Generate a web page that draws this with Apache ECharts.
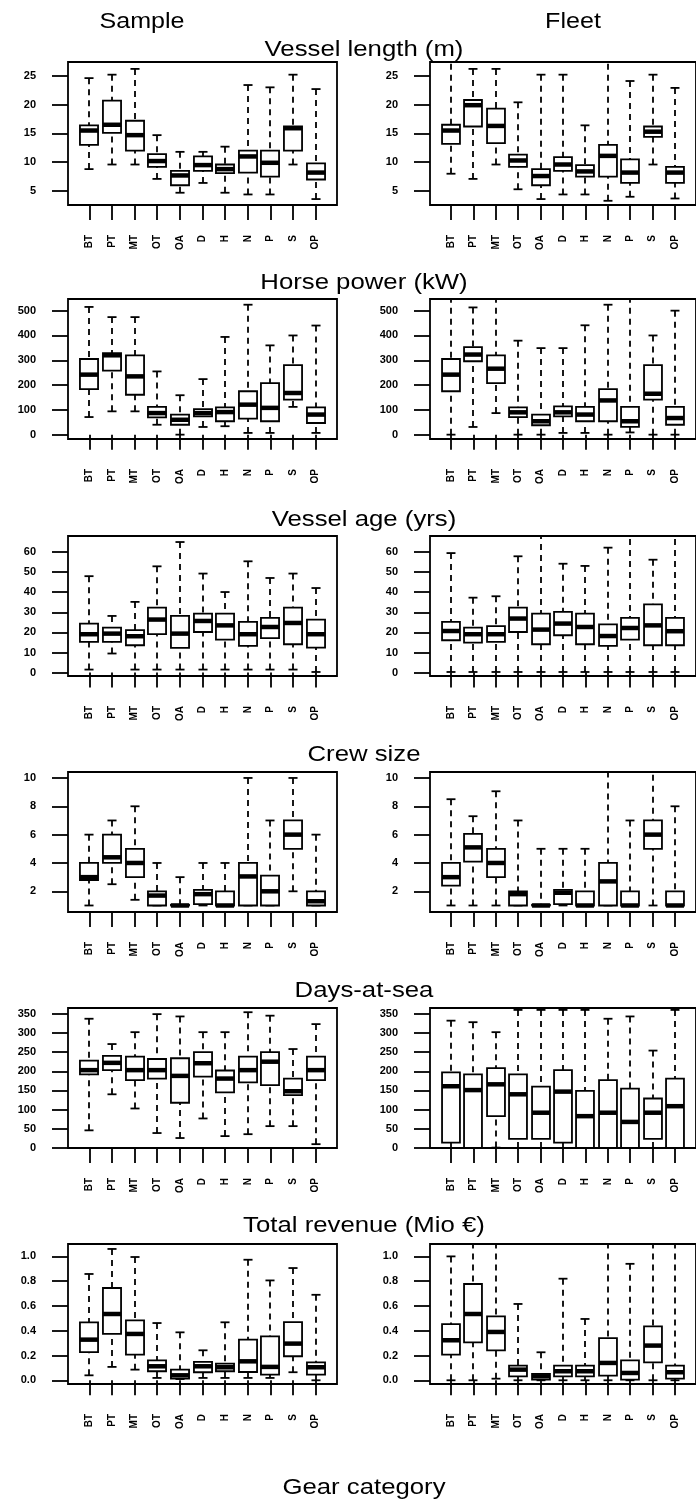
<!DOCTYPE html>
<html>
<head>
<meta charset="utf-8">
<script src="https://cdn.jsdelivr.net/npm/echarts@6/dist/echarts.min.js"></script>
<style>
  html, body { margin: 0; padding: 0; background: #fff; }
  #chart { width: 696px; height: 1505px; }
</style>
</head>
<body>
<div id="chart"></div>
<script>
// Gear categories on the x axis
const categories = ['BT', 'PT', 'MT', 'OT', 'OA', 'D', 'H', 'N', 'P', 'S', 'OP'];

// Box statistics per gear: [lower whisker, Q1, median, Q3, upper whisker]
const lengthSample = [
  [8.8, 13.0, 15.5, 16.4, 24.6], [9.6, 15.1, 16.5, 20.7, 25.2], [9.6, 12.0, 14.7, 17.2, 26.2],
  [7.1, 9.2, 10.2, 11.4, 14.7], [4.7, 6.0, 7.7, 8.5, 11.8], [6.4, 8.5, 9.5, 11.0, 11.8],
  [4.7, 8.1, 8.8, 9.6, 12.7], [4.4, 8.2, 11.0, 12.0, 23.4], [4.4, 7.5, 9.9, 12.0, 23.0],
  [9.6, 12.0, 15.9, 16.2, 25.2], [3.6, 7.0, 8.2, 9.8, 22.7]
];
const lengthFleet = [
  [8.0, 13.2, 15.5, 16.5, 29.0], [7.1, 16.2, 19.9, 20.8, 26.2], [9.6, 13.3, 16.3, 19.3, 26.2],
  [5.3, 9.2, 10.3, 11.3, 20.4], [3.6, 6.0, 7.6, 8.8, 25.2], [4.4, 8.5, 9.6, 10.9, 25.2],
  [4.4, 7.5, 8.4, 9.5, 16.4], [3.3, 7.5, 11.1, 13.0, 29.0], [4.0, 6.4, 8.2, 10.5, 24.1],
  [9.6, 14.4, 15.3, 16.2, 25.2], [3.7, 6.4, 8.2, 9.2, 22.9]
];
const powerSample = [
  [71, 184, 242, 305, 515], [94, 258, 320, 329, 474], [94, 161, 235, 320, 474],
  [40, 70, 87, 112, 255], [0, 40, 60, 81, 159], [31, 74, 87, 103, 224],
  [34, 54, 91, 110, 394], [7, 65, 121, 175, 524], [7, 54, 108, 208, 360],
  [112, 141, 168, 280, 400], [7, 47, 81, 110, 440]
];
const powerFleet = [
  [0, 175, 242, 305, 600], [31, 296, 323, 353, 513], [87, 208, 266, 320, 600],
  [0, 71, 90, 110, 379], [0, 38, 54, 81, 349], [7, 74, 90, 114, 349],
  [7, 54, 81, 112, 441], [0, 54, 138, 184, 524], [9, 31, 54, 112, 600],
  [0, 141, 165, 280, 400], [0, 40, 67, 112, 500]
];
const ageSample = [
  [1.5, 15.3, 19.1, 24.4, 48.0], [9.5, 15.3, 19.4, 22.4, 28.2], [1.5, 13.6, 18.1, 21.1, 35.2],
  [1.5, 19.1, 26.4, 32.3, 52.9], [1.5, 12.3, 19.4, 28.2, 65.0], [1.5, 20.2, 25.7, 29.4, 49.3],
  [1.5, 16.4, 23.5, 29.4, 40.1], [1.5, 13.3, 19.1, 25.2, 55.4], [1.5, 17.2, 22.7, 27.2, 47.1],
  [1.5, 14.1, 24.7, 32.3, 49.3], [0.3, 12.4, 19.1, 26.4, 42.1]
];
const ageFleet = [
  [0.3, 16.1, 20.7, 25.2, 59.5], [0.3, 14.9, 19.1, 22.4, 37.3], [0.3, 15.3, 19.1, 23.1, 38.0],
  [0.3, 20.2, 26.9, 32.3, 57.9], [0.3, 14.1, 21.4, 29.4, 75.0], [0.3, 18.6, 24.4, 30.2, 54.2],
  [0.3, 14.1, 22.7, 29.4, 53.1], [0.3, 13.3, 18.2, 24.0, 62.2], [0.3, 16.4, 22.2, 27.2, 72.0],
  [0.3, 13.6, 23.5, 34.0, 56.2], [0.3, 13.6, 20.6, 27.2, 72.0]
];
const crewSample = [
  [1, 2.8, 3.0, 4.0, 6.0], [2.5, 4.0, 4.4, 6.0, 7.0], [1.4, 3.0, 4.0, 5.0, 8.0],
  [1, 1.0, 1.7, 2.0, 4.0], [1, 1.0, 1.0, 1.05, 3.0], [1, 1.1, 1.8, 2.1, 4.0],
  [1, 1.0, 1.0, 2.0, 4.0], [1, 1.0, 3.05, 4.0, 10.0], [1, 1.0, 2.0, 3.1, 7.0],
  [2, 5.0, 6.0, 7.0, 10.0], [1, 1.0, 1.3, 2.0, 6.0]
];
const crewFleet = [
  [1, 2.4, 3.0, 4.0, 8.5], [1, 4.1, 5.1, 6.05, 7.3], [1, 3.0, 4.0, 5.0, 9.06],
  [1, 1.0, 1.8, 2.0, 7.0], [1, 1.0, 1.0, 1.05, 5.0], [1, 1.1, 1.9, 2.1, 5.0],
  [1, 1.0, 1.0, 2.0, 5.0], [1, 1.0, 2.7, 4.0, 12.0], [1, 1.0, 1.0, 2.0, 7.0],
  [1, 5.0, 6.0, 7.0, 11.0], [1, 1.0, 1.0, 2.0, 8.0]
];
const daysSample = [
  [46, 192, 203, 228, 337], [140, 203, 222, 240, 271], [103, 177, 203, 238, 302],
  [39, 181, 203, 232, 349], [26, 118, 188, 234, 343], [77, 186, 221, 250, 302],
  [31, 145, 181, 202, 302], [36, 171, 203, 238, 354], [57, 164, 225, 250, 345],
  [57, 138, 148, 181, 258], [10, 177, 203, 238, 323]
];
const daysFleet = [
  [0, 14, 161, 197, 332], [0, 0, 151, 192, 328], [1, 83, 166, 208, 302],
  [0, 24, 140, 192, 360], [0, 24, 92, 160, 360], [0, 14, 147, 203, 360],
  [0, 0, 83, 149, 360], [0, 0, 92, 177, 337], [0, 0, 68, 155, 343],
  [0, 24, 92, 129, 254], [0, 0, 109, 181, 360]
];
const revenueSample = [
  [0.04, 0.228, 0.328, 0.468, 0.858], [0.108, 0.374, 0.535, 0.745, 1.06], [0.086, 0.207, 0.374, 0.484, 0.995],
  [0.019, 0.073, 0.113, 0.161, 0.462], [0.01, 0.013, 0.04, 0.086, 0.387], [0.019, 0.065, 0.113, 0.148, 0.242],
  [0.019, 0.073, 0.105, 0.134, 0.468], [0.019, 0.067, 0.153, 0.328, 0.973], [0.019, 0.046, 0.108, 0.355, 0.806],
  [0.065, 0.194, 0.296, 0.47, 0.906], [0.0, 0.046, 0.105, 0.145, 0.69]
];
const revenueFleet = [
  [0.0, 0.207, 0.323, 0.454, 1.0], [0.0, 0.306, 0.535, 0.777, 1.2], [0.013, 0.242, 0.39, 0.516, 1.2],
  [0.0, 0.032, 0.086, 0.118, 0.616], [0.0, 0.005, 0.032, 0.051, 0.226], [0.0, 0.032, 0.073, 0.118, 0.82],
  [0.0, 0.032, 0.073, 0.118, 0.495], [0.0, 0.038, 0.14, 0.341, 1.2], [0.0, 0.005, 0.059, 0.161, 0.94],
  [0.0, 0.145, 0.28, 0.435, 1.2], [0.0, 0.013, 0.065, 0.118, 1.2]
];

// Tick values of each variable's y axis
const lengthTicks = [5, 10, 15, 20, 25];
const powerTicks = [0, 100, 200, 300, 400, 500];
const ageTicks = [0, 10, 20, 30, 40, 50, 60];
const crewTicks = [2, 4, 6, 8, 10];
const daysTicks = [0, 50, 100, 150, 200, 250, 300, 350];
const revenueTicks = [0, 0.2, 0.4, 0.6, 0.8, 1.0];

const columnTitles = ['Sample', 'Fleet'];
const xTitle = 'Gear category';

const variables = [
  { title: 'Vessel length (m)', series: [lengthSample, lengthFleet], ticks: lengthTicks, min: 2.57, max: 27.4, digits: 0 },
  { title: 'Horse power (kW)', series: [powerSample, powerFleet], ticks: powerTicks, min: -17.5, max: 547, digits: 0 },
  { title: 'Vessel age (yrs)', series: [ageSample, ageFleet], ticks: ageTicks, min: -1.7, max: 68, digits: 0 },
  { title: 'Crew size', series: [crewSample, crewFleet], ticks: crewTicks, min: 0.54, max: 10.42, digits: 0 },
  { title: 'Days-at-sea', series: [daysSample, daysFleet], ticks: daysTicks, min: 0, max: 365, digits: 0 },
  { title: 'Total revenue (Mio \u20ac)', series: [revenueSample, revenueFleet], ticks: revenueTicks, min: -0.03, max: 1.10, digits: 1 }
];

// Layout of the 6 x 2 panel grid (pixels)
const colLeft = [68, 430];
const plotWidth = 269;
const rowTop = [62, 299, 536, 772, 1008, 1244];
const rowHeight = [143, 140, 140, 140, 140, 140];
const rowTitleY = [50, 283, 520, 755, 991, 1226];

const FONT = '"Liberation Sans", Arial, Helvetica, sans-serif';
const LINE_W = 1.8;
const positions = categories.map((c, i) => i + 1);

function renderBox(params, api) {
  const x = api.value(0);
  const lo = api.value(1), q1 = api.value(2), med = api.value(3), q3 = api.value(4), hi = api.value(5);
  const boxW = api.size([0.8, 0])[0];
  const capW = boxW / 2;
  const px = Math.round(api.coord([x, med])[0]);
  const y = v => api.coord([x, v])[1];
  const solid = { stroke: '#000', lineWidth: LINE_W };
  const dashed = { stroke: '#000', lineWidth: LINE_W, lineDash: [6, 5] };
  return {
    type: 'group',
    children: [
      { type: 'line', shape: { x1: px, y1: y(hi), x2: px, y2: y(q3) }, style: dashed },
      { type: 'line', shape: { x1: px, y1: y(lo), x2: px, y2: y(q1) }, style: dashed },
      { type: 'line', shape: { x1: px - capW / 2, y1: y(hi), x2: px + capW / 2, y2: y(hi) }, style: solid },
      { type: 'line', shape: { x1: px - capW / 2, y1: y(lo), x2: px + capW / 2, y2: y(lo) }, style: solid },
      { type: 'rect', shape: { x: px - boxW / 2, y: y(q3), width: boxW, height: y(q1) - y(q3) },
        style: { fill: '#fff', stroke: '#000', lineWidth: LINE_W } },
      { type: 'line', shape: { x1: px - boxW / 2, y1: y(med), x2: px + boxW / 2, y2: y(med) },
        style: { stroke: '#000', lineWidth: 4.5 } }
    ]
  };
}

const grid = [], xAxis = [], yAxis = [], series = [];
variables.forEach((v, r) => {
  v.series.forEach((stats, c) => {
    const idx = grid.length;
    grid.push({
      left: colLeft[c], top: rowTop[r], width: plotWidth, height: rowHeight[r],
      show: true, borderColor: '#000', borderWidth: LINE_W, backgroundColor: 'transparent'
    });
    xAxis.push({
      gridIndex: idx, type: 'value', min: 0.06, max: 11.94,
      axisLine: { show: false }, splitLine: { show: false },
      axisTick: { show: true, customValues: positions, length: 15, lineStyle: { color: '#000', width: LINE_W } },
      axisLabel: {
        customValues: positions, formatter: val => categories[Math.round(val) - 1],
        rotate: 90, margin: 30, fontSize: 10, fontWeight: 'bold', color: '#000', fontFamily: FONT
      }
    });
    yAxis.push({
      gridIndex: idx, type: 'value', min: v.min, max: v.max,
      axisLine: { show: false }, splitLine: { show: false },
      axisTick: { show: true, customValues: v.ticks, length: 16, lineStyle: { color: '#000', width: LINE_W } },
      axisLabel: {
        customValues: v.ticks, formatter: val => val.toFixed(v.digits),
        margin: 32, fontSize: 11, fontWeight: 'bold', color: '#000', fontFamily: FONT
      }
    });
    series.push({
      type: 'custom', xAxisIndex: idx, yAxisIndex: idx, clip: true, silent: true,
      encode: { x: 0, y: [1, 2, 3, 4, 5] },
      data: stats.map((s, i) => [positions[i]].concat(s)),
      renderItem: renderBox
    });
  });
});

const titleText = (text, x, y, size, stretch) => ({
  type: 'text', x: x, y: y, scaleX: stretch, silent: true,
  style: { text: text, font: size + 'px ' + FONT, fill: '#000', align: 'center', verticalAlign: 'middle' }
});

const graphic = [
  titleText(columnTitles[0], 142, 22, 22, 1.14),
  titleText(columnTitles[1], 573, 22, 22, 1.14),
  titleText(xTitle, 364, 1488, 22, 1.17)
].concat(variables.map((v, r) => titleText(v.title, 364, rowTitleY[r], 22, 1.17)));

const chart = echarts.init(document.getElementById('chart'), null, { renderer: 'canvas' });
chart.setOption({
  animation: false,
  backgroundColor: '#fff',
  grid: grid, xAxis: xAxis, yAxis: yAxis, series: series, graphic: graphic
});
</script>
</body>
</html>
